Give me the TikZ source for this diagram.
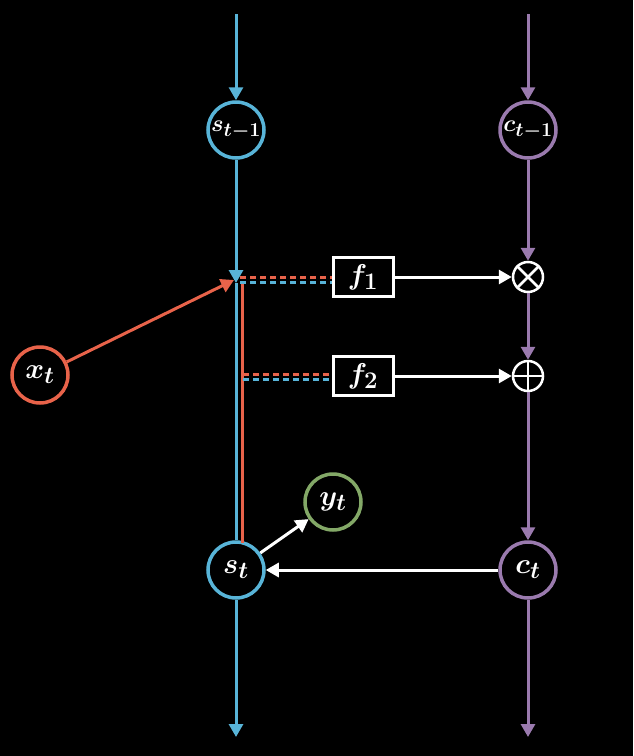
\documentclass[tikz,border=0pt]{standalone}
\usepackage{graphicx}
\usetikzlibrary{arrows.meta}
\definecolor{cblue}{HTML}{58B4D8}
\definecolor{cpurple}{HTML}{9A7AAE}
\definecolor{cred}{HTML}{E8634A}
\definecolor{cgreen}{HTML}{83A867}
\newcommand{\lbl}[1]{\scalebox{1.15}{$#1$}}
\newcommand{\lblsm}[1]{\scalebox{0.95}{$#1$}}
\begin{document}
\begin{tikzpicture}[x=1pt,y=-1pt,
  circ/.style={circle,draw=#1,line width=3.5pt,minimum size=56pt,inner sep=0pt},
  txt/.style={text=white,font=\Huge\boldmath,inner sep=0pt},
  opnode/.style={circle,draw=white,line width=2.5pt,minimum size=30pt,inner sep=0pt},
  fbox/.style={draw=white,line width=3pt,minimum width=60pt,minimum height=39pt,inner sep=0pt,text=white,font=\Huge\boldmath},
  tip/.style={-{Triangle[width=14pt,length=13pt]}},
  wline/.style={white,line width=3pt,tip},
  bline/.style={cblue,line width=3pt},
  pline/.style={cpurple,line width=3pt},
  rline/.style={cred,line width=3pt},
  dsh/.style={line width=3pt,dash pattern=on 6pt off 4pt}
]
\fill[black] (0,0) rectangle (633,756);
% nodes
\node[circ=cblue] (s1) at (236,130) {};
\node[txt] (s1t) at (s1.center) {\lblsm{s_{t-1}}};
\node[circ=cpurple] (c1) at (528,130) {};
\node[txt] (c1t) at (c1.center) {\lblsm{c_{t-1}}};
\node[circ=cred] (x) at (40,375) {};
\node[txt] (xt) at (x.center) {\lbl{x_t}};
\node[circ=cgreen] (y) at (333,502) {};
\node[txt] (yt) at (y.center) {\lbl{y_t}};
\node[circ=cblue] (s) at (236,570) {};
\node[txt] (st) at (s.center) {\lbl{s_t}};
\node[circ=cpurple] (c) at (528,570) {};
\node[txt] (ct) at (c.center) {\lbl{c_t}};
\node[fbox] (f1) at (363,277) {\lbl{f_1}};
\node[fbox] (f2) at (363,376) {\lbl{f_2}};
\node[opnode] (mul) at (528,277) {};
\node[opnode] (add) at (528,376) {};
\draw[white,line width=2.5pt] (mul.north west) -- (mul.south east) (mul.north east) -- (mul.south west);
\draw[white,line width=2.5pt] (add.north) -- (add.south) (add.east) -- (add.west);
\coordinate (bt) at (236,14);
\coordinate (pt) at (528,14);
\coordinate (bb) at (236,737);
\coordinate (pb) at (528,737);
\coordinate (j) at (236,283);
\coordinate (jr) at (234,280);
% blue path
\draw[bline,tip] (bt) -- (s1);
\draw[bline,tip] (s1) -- (j);
\draw[bline] (j) -- (s.north);
\draw[bline,tip] (s) -- (bb);
% purple path
\draw[pline,tip] (pt) -- (c1);
\draw[pline,tip] (c1) -- (mul);
\draw[pline,tip] (mul) -- (add);
\draw[pline,tip] (add) -- (c);
\draw[pline,tip] (c) -- (pb);
% red input
\draw[rline,tip] (x) -- (jr);
\coordinate (rv1) at (242,282);
\draw[rline] (rv1) -- (242,543);
% dashed
\draw[cred,dsh] (240,277) -- (f1.west |- 0,277);
\draw[cblue,dsh] (240,282) -- (f1.west |- 0,282);
\draw[cred,dsh] (243,374) -- (f2.west |- 0,374);
\draw[cblue,dsh] (243,379) -- (f2.west |- 0,379);
% white arrows
\draw[wline] (f1) -- (mul);
\draw[wline] (f2) -- (add);
\draw[wline] (c) -- (s);
\draw[wline] (s) -- (y);
\end{tikzpicture}
\end{document}
